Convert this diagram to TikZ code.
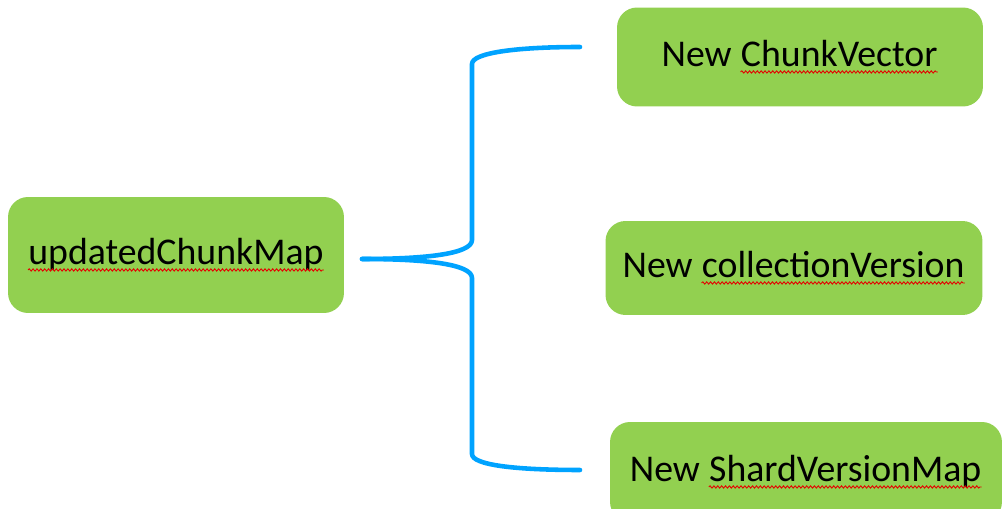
\documentclass[tikz,border=0pt]{standalone}
\usepackage{fontspec}
\setmainfont{Carlito}
\usetikzlibrary{decorations.pathmorphing}

\definecolor{boxgreen}{RGB}{146,208,80}
\definecolor{braceblue}{RGB}{0,163,255}

\tikzset{
    item/.style={fill=boxgreen, rounded corners=0.4cm, inner sep=0pt, align=center,
        font=\fontsize{21.5}{25}\selectfont},
    brace/.style={braceblue, line width=2.6pt, line cap=round, line join=round},
    word/.style={inner sep=0pt, minimum width=0pt, minimum height=0pt, fill=none, sharp corners},
    spell/.style={red!90!black, line width=0.5pt, sharp corners, decorate,
        decoration={snake, segment length=2.2pt, amplitude=0.65pt}}
}

% word with a wavy underline
\newcommand{\spellchk}[1]{\tikz[baseline=(w.base), x=1cm, y=1cm]{\node[word] (w) {#1};
    \draw[spell] ([yshift=-3pt]w.base west) -- ([yshift=-3pt]w.base east);}}

\begin{document}
\begin{tikzpicture}[x=0.02cm, y=-0.02cm]
    \useasboundingbox (0,0) rectangle (1002,509);

    % --- BOXES ---
    \node[item, minimum width=6.72cm, minimum height=2.32cm] (map) at (176,255) {\spellchk{updatedChunkMap}};
    \node[item, minimum width=7.32cm, minimum height=1.98cm] (vec) at (800,57) {New \spellchk{ChunkVector}};
    \node[item, minimum width=7.54cm, minimum height=1.88cm] (ver) at (794,268) {New \spellchk{collectionVersion}};
    \node[item, minimum width=7.84cm, minimum height=2.0cm] (svm) at (806,472) {New \spellchk{ShardVersionMap}};

    % --- BRACE ---
    \coordinate (tip) at (362,259);
    \coordinate (armT) at (580,47);
    \coordinate (armB) at (580,470);
    \draw[brace] (tip) .. controls (425,259) and (472,254) .. (472,240) -- (472,64)
        .. controls (472,53) and (515,47) .. (armT);
    \draw[brace] (tip) .. controls (425,259) and (472,264) .. (472,278) -- (472,454)
        .. controls (472,465) and (515,470) .. (armB);
\end{tikzpicture}
\end{document}
